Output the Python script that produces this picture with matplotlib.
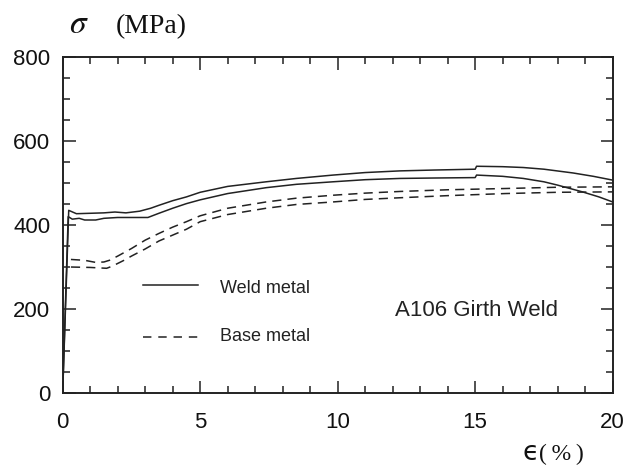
import matplotlib
matplotlib.use("Agg")
import matplotlib.pyplot as plt
from matplotlib.ticker import MultipleLocator

plt.rcParams['font.family'] = ['Liberation Sans', 'DejaVu Sans']
plt.rcParams['mathtext.fontset'] = 'stix'

# weld metal, upper curve (strain %, stress MPa)
weld_hi_x = [0, 0.22, 0.5, 1.0, 1.5, 1.9, 2.3, 2.8, 3.2, 3.5, 4.0, 4.5, 5.0, 6.0, 7.4, 8.5,
             9.83, 11.0, 12.27, 13.5, 15.0, 15.05, 16.0, 16.75, 17.5, 18.56, 19.3, 20.0]
weld_hi_y = [0, 435, 427, 428, 429, 431, 429, 433, 440, 447, 458, 467, 478, 492, 503, 511,
             519, 525, 529, 531, 533, 540, 539, 537, 533, 524, 516, 507]
# weld metal, lower curve
weld_lo_x = [0, 0.2, 0.35, 0.6, 0.8, 1.2, 1.5, 2.0, 2.5, 3.1, 3.5, 4.0, 4.5, 5.0, 6.0, 7.4,
             8.5, 9.83, 11.0, 12.27, 13.5, 15.0, 15.05, 16.0, 16.75, 17.5, 18.0, 18.9, 19.5, 20.0]
weld_lo_y = [0, 420, 414, 416, 412, 412, 416, 418, 418, 418, 428, 440, 451, 460, 475, 489,
             497, 503, 508, 511, 512, 513, 519, 516, 511, 503, 495, 479, 467, 455]
# base metal, upper curve
base_hi_x = [0.3, 0.8, 1.2, 1.5, 1.7, 2.0, 2.5, 3.0, 3.5, 4.0, 4.5, 5.0, 6.0, 7.4, 8.5,
             9.83, 11.0, 12.27, 14.0, 16.1, 18.0, 20.0]
base_hi_y = [318, 316, 311, 312, 316, 326, 344, 364, 380, 395, 408, 422, 440, 455, 464,
             471, 476, 480, 484, 487, 490, 491]
# base metal, lower curve
base_lo_x = [0.3, 1.0, 1.6, 1.8, 2.2, 2.5, 3.0, 3.5, 4.0, 4.5, 5.0, 6.0, 7.4, 8.5,
             9.83, 11.0, 12.27, 14.0, 16.1, 18.0, 20.0]
base_lo_y = [300, 299, 297, 302, 315, 326, 343, 362, 376, 390, 408, 425, 440, 449,
             455, 461, 465, 470, 475, 478, 479]

fig = plt.figure(figsize=(6.28, 4.68), dpi=100)
ax = fig.add_axes([0.0998, 0.1603, 0.8758, 0.7177])

lw = 1.1
dash = (0, (6, 4))
ax.plot(weld_hi_x, weld_hi_y, color="#222222", lw=lw)
ax.plot(weld_lo_x, weld_lo_y, color="#222222", lw=lw)
ax.plot(base_hi_x, base_hi_y, color="#222222", lw=lw, ls=dash)
ax.plot(base_lo_x, base_lo_y, color="#222222", lw=lw, ls=dash)

ax.set_xlim(0, 20); ax.set_ylim(0, 800)
ax.xaxis.set_major_locator(MultipleLocator(5)); ax.xaxis.set_minor_locator(MultipleLocator(1))
ax.yaxis.set_major_locator(MultipleLocator(200)); ax.yaxis.set_minor_locator(MultipleLocator(50))
ax.tick_params(which="both", direction="in", top=True, right=True, width=1.1, color="#222222",
               labelsize=16, labelcolor="#111111")
ax.tick_params(which="major", length=9)
ax.tick_params(which="minor", length=5)
ax.tick_params(axis="x", which="major", pad=14)
ax.tick_params(axis="y", which="major", pad=9)
for s in ax.spines.values():
    s.set_linewidth(1.4); s.set_color("#222222")

# legend drawn by hand
ax.plot([2.92, 4.92], [257, 257], color="#222222", lw=lw)
ax.plot([2.92, 4.92], [134, 134], color="#222222", lw=lw, ls=(0, (5.5, 4.5)))
ax.text(5.73, 250, "Weld metal", fontsize=13, va="center", color="#222222")
ax.text(5.73, 134, "Base metal", fontsize=13, va="center", color="#222222")
ax.text(12.08, 196, "A106 Girth Weld", fontsize=16, va="center", color="#222222")

fig.text(69/628, 1 - 33/468, r"$\sigma$", fontsize=24, va="baseline", color="#111111")
fig.text(116/628, 1 - 33/468, "(MPa)", fontsize=20, family="Liberation Serif",
         va="baseline", color="#111111")
fig.text(522/628, 1 - 460/468, "\u03f5", fontsize=19, family="DejaVu Sans",
         va="baseline", color="#111111")
fig.text(539/628, 1 - 460/468, "(\u2009%\u2009)", fontsize=17, family="Liberation Serif",
         va="baseline", color="#111111")

fig.savefig("out.png", dpi=100)
